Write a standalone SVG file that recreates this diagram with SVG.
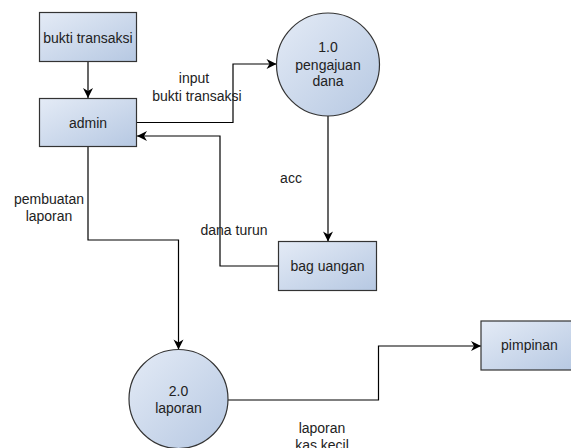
<svg xmlns="http://www.w3.org/2000/svg" width="571" height="448" viewBox="0 0 571 448">
<defs>
<linearGradient id="g" x1="0" y1="0" x2="1" y2="1">
<stop offset="0" stop-color="#e4ebf6"/>
<stop offset="1" stop-color="#b6c8e2"/>
</linearGradient>
<marker id="arr" markerUnits="userSpaceOnUse" markerWidth="14" markerHeight="12" viewBox="-11 -6 12 12" refX="0" refY="0" orient="auto">
<path d="M0,0 L-10,-5 L-7,0 L-10,5 Z" fill="#000"/>
</marker>
<style>
.box{fill:url(#g);stroke:#333;stroke-width:1.2}
.t{font-family:"Liberation Sans",Arial,sans-serif;font-size:14px;fill:#222;text-anchor:middle}
.e{fill:none;stroke:#000;stroke-width:1.2;marker-end:url(#arr)}
</style>
</defs>
<rect width="571" height="448" fill="#fff"/>
<g id="connectors">
<path class="e" d="M88,62 V98"/>
<path class="e" d="M137,122.5 H233 V64 H276.5"/>
<path class="e" d="M328,116 V241.5"/>
<path class="e" d="M278.5,266 H220 V136 H137"/>
<path class="e" d="M88,147 V240 H178.5 V349.5"/>
<path class="e" d="M228,400 H378.5 V346 H481"/>
</g>
<g id="labels">
<text class="t" x="194" y="83">input</text>
<text class="t" x="197" y="101">bukti transaksi</text>
<text class="t" x="291" y="183">acc</text>
<text class="t" x="234" y="235">dana turun</text>
<text class="t" x="49" y="204">pembuatan</text>
<text class="t" x="49" y="221">laporan</text>
<text class="t" x="322" y="433">laporan</text>
<text class="t" x="322" y="450">kas kecil</text>
</g>
<g id="bukti-transaksi">
<rect class="box" x="39.5" y="12.5" width="97" height="49"/>
<text class="t" x="88" y="43">bukti transaksi</text>
</g>
<g id="admin">
<rect class="box" x="39.5" y="98.5" width="97" height="48"/>
<text class="t" x="88" y="128">admin</text>
</g>
<g id="p1">
<circle class="box" cx="328" cy="64.5" r="51.5"/>
<text class="t" x="328" y="51.5">1.0</text>
<text class="t" x="328" y="70">pengajuan</text>
<text class="t" x="328" y="86">dana</text>
</g>
<g id="bag-uangan">
<rect class="box" x="278.5" y="241.5" width="98" height="49"/>
<text class="t" x="327.5" y="271">bag uangan</text>
</g>
<g id="p2">
<circle class="box" cx="178.5" cy="399" r="49.5"/>
<text class="t" x="178.5" y="396">2.0</text>
<text class="t" x="178.5" y="413">laporan</text>
</g>
<g id="pimpinan">
<rect class="box" x="481" y="321" width="97" height="49"/>
<text class="t" x="529.5" y="350">pimpinan</text>
</g>
</svg>
